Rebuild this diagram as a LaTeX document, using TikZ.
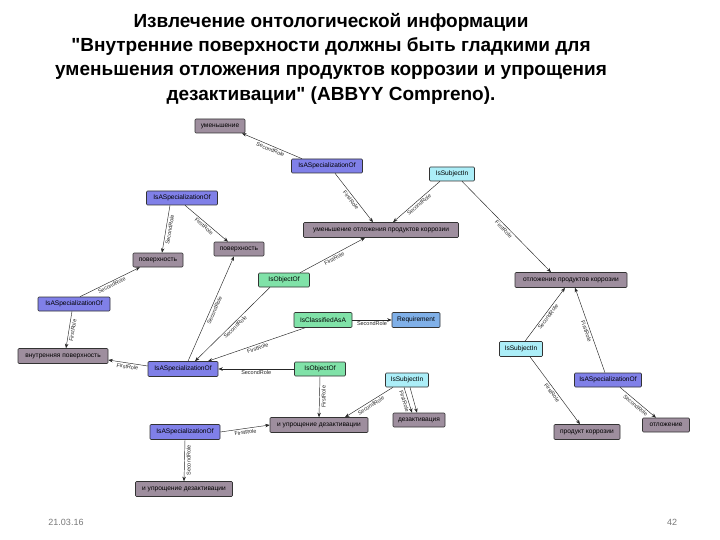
\documentclass[tikz,border=0pt]{standalone}
\usepackage{fontspec}
\setmainfont{Liberation Sans}[Ligatures=TeXOff]
\usetikzlibrary{arrows.meta}
\definecolor{conceptc}{RGB}{158,142,158}
\definecolor{specc}{RGB}{128,128,232}
\definecolor{objc}{RGB}{128,226,168}
\definecolor{subjc}{RGB}{172,238,248}
\definecolor{reqc}{RGB}{128,176,232}
\definecolor{footc}{RGB}{120,120,120}
\begin{document}
\begin{tikzpicture}[x=1pt,y=-1pt,
 box/.style={draw=black!80, line width=0.6pt, rounded corners=1pt, inner sep=0pt, minimum height=14pt, font=\fontsize{6.6}{7}\selectfont},
 concept/.style={box, fill=conceptc},
 spec/.style={box, fill=specc},
 obj/.style={box, fill=objc},
 subj/.style={box, fill=subjc},
 req/.style={box, fill=reqc},
 rel/.style={-{Stealth[length=4.5pt,width=3.5pt]}, line width=0.45pt, black!85},
 lab/.style={font=\fontsize{5.5}{6}\selectfont, sloped, below, inner sep=1.6pt, midway},
 vlab/.style={font=\fontsize{5.5}{6}\selectfont, rotate=90, anchor=north, inner sep=2pt, midway},
 title/.style={font=\fontsize{19}{22}\bfseries\selectfont, align=center},
 foot/.style={font=\fontsize{9}{10}\selectfont, text=footc},
]
\useasboundingbox (0,0) rectangle (720,540);

\node[title] (t1) at (331,22) {Извлечение онтологической информации};
\node[title] (t2) at (331,47) {"Внутренние поверхности должны быть гладкими для};
\node[title] (t3) at (331,72) {уменьшения отложения продуктов коррозии и упрощения};
\node[title] (t4) at (331,96) {дезактивации" (ABBYY Compreno).};

\node[foot] (f1) at (66,522) {21.03.16};
\node[foot] (f2) at (672,522) {42};

\node[concept, minimum width=50pt] (n1) at (220,126) {уменьшение};
\node[spec, minimum width=71pt] (n2) at (327,166) {IsASpecializationOf};
\node[subj, minimum width=45pt] (n3) at (452,174) {IsSubjectIn};
\node[spec, minimum width=71pt] (n4) at (182,198) {IsASpecializationOf};
\node[concept, minimum width=155pt, minimum height=15pt] (n5) at (381,230) {уменьшение отложения продуктов коррозии};
\node[concept, minimum width=50pt] (n6) at (158,260) {поверхность};
\node[concept, minimum width=50pt] (n7) at (239,249) {поверхность};
\node[obj, minimum width=51pt] (n8) at (284,280) {IsObjectOf};
\node[concept, minimum width=112pt, minimum height=15pt] (n9) at (571,280) {отложение продуктов коррозии};
\node[spec, minimum width=72pt] (n10) at (74,304) {IsASpecializationOf};
\node[obj, minimum width=58pt, minimum height=15pt] (n11) at (323,320) {IsClassifiedAsA};
\node[req, minimum width=48pt, minimum height=15pt] (n12) at (416,320) {Requirement};
\node[subj, minimum width=43pt, minimum height=15pt] (n13) at (521,349) {IsSubjectIn};
\node[concept, minimum width=90pt, minimum height=15pt] (n14) at (63,356) {внутренняя поверхность};
\node[spec, minimum width=70pt, minimum height=15pt] (n15) at (183,369) {IsASpecializationOf};
\node[obj, minimum width=51pt] (n16) at (320,369) {IsObjectOf};
\node[subj, minimum width=43pt] (n17) at (407,380) {IsSubjectIn};
\node[spec, minimum width=67pt] (n18) at (608,380) {IsASpecializationOf};
\node[concept, minimum width=98pt, minimum height=15pt] (n19) at (319,425) {и упрощение дезактивации};
\node[concept, minimum width=52pt] (n20) at (419,420) {дезактивация};
\node[spec, minimum width=70pt, minimum height=15pt] (n21) at (185,432) {IsASpecializationOf};
\node[concept, minimum width=66pt, minimum height=15pt] (n22) at (587,432) {продукт коррозии};
\node[concept, minimum width=47pt] (n23) at (666,425) {отложение};
\node[concept, minimum width=97pt, minimum height=15pt] (n24) at (184,489) {и упрощение дезактивации};

\draw[rel] ([xshift=-25pt]n2.north) -- ([xshift=22pt]n1.south) node[lab] {SecondRole};
\draw[rel] ([xshift=8pt]n2.south) -- ([xshift=-8pt]n5.north) node[lab] {FirstRole};
\draw[rel] ([xshift=-12pt]n3.south) -- ([xshift=12pt]n5.north) node[lab] {SecondRole};
\draw[rel] ([xshift=10pt]n3.south) -- ([xshift=-20pt]n9.north) node[lab] {FirstRole};
\draw[rel] ([xshift=-12pt]n4.south) -- ([xshift=4pt]n6.north) node[lab] {SecondRole};
\draw[rel] ([xshift=3pt]n4.south) -- ([xshift=-11pt]n7.north) node[lab] {FirstRole};
\draw[rel] ([xshift=16pt]n8.north) -- ([xshift=-16pt]n5.south) node[lab] {FirstRole};
\draw[rel] ([xshift=5pt]n15.north) -- ([xshift=-5pt]n7.south) node[lab] {SecondRole};
\draw[rel] ([xshift=-14pt]n8.south) -- ([xshift=12pt]n15.north) node[lab] {SecondRole};
\draw[rel] ([xshift=-18pt]n11.south) -- ([xshift=25pt]n15.north) node[lab] {FirstRole};
\draw[rel] (n11.east) -- (n12.west) node[lab] {SecondRole};
\draw[rel] (n16.west) -- (n15.east) node[lab] {SecondRole};
\draw[rel] ([yshift=3pt]n15.west) -- ([yshift=-4pt]n14.east) node[lab] {FirstRole};
\draw[rel] ([xshift=6pt]n10.north) -- ([xshift=-18pt]n6.south) node[lab] {SecondRole};
\draw[rel] ([xshift=-2pt]n10.south) -- ([xshift=3pt]n14.north) node[lab] {FirstRole};
\draw[rel] ([xshift=4pt]n13.north) -- ([xshift=-6pt]n9.south) node[lab] {SecondRole};
\draw[rel] ([xshift=-3pt]n18.north) -- ([xshift=4pt]n9.south) node[lab] {FirstRole};
\draw[rel] ([xshift=9pt]n13.south) -- ([xshift=-7pt]n22.north) node[lab] {FirstRole};
\draw[rel] ([xshift=12pt]n18.south) -- ([xshift=-10pt]n23.north) node[lab] {SecondRole};
\draw[rel] ([xshift=-14pt]n17.south) -- ([xshift=26pt]n19.north) node[lab] {SecondRole};
\draw[rel] ([xshift=-3pt]n17.south) -- ([xshift=-7pt]n20.north) node[lab] {FirstRole};
\draw[rel] ([xshift=3pt]n17.south) -- ([xshift=-2pt]n20.north);
\draw[rel] (n16.south) -- (n19.north) node[vlab] {FirstRole};
\draw[rel] (n21.east) -- (n19.west) node[lab] {FirstRole};
\draw[rel] (n21.south) -- (n24.north) node[vlab] {SecondRole};
\end{tikzpicture}
\end{document}
